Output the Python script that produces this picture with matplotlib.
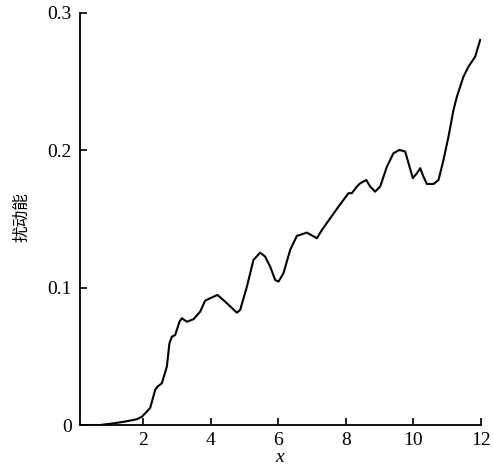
import matplotlib
matplotlib.use("Agg")
import matplotlib.pyplot as plt

x_vals = [0.2, 0.717, 1.111, 1.458, 1.804, 1.953, 2.199, 2.347, 2.415, 2.545, 2.693, 2.770,
          2.841, 2.939, 3.067, 3.138, 3.286, 3.481, 3.680, 3.828, 3.976, 4.193, 4.421,
          4.767, 4.865, 5.064, 5.259, 5.458, 5.606, 5.754, 5.902, 6.000, 6.148, 6.347,
          6.545, 6.841, 7.138, 7.286, 7.532, 7.778, 7.926, 8.074, 8.175, 8.323, 8.421,
          8.599, 8.717, 8.865, 9.013, 9.212, 9.407, 9.585, 9.754, 9.852, 9.982, 10.101,
          10.199, 10.296, 10.397, 10.593, 10.741, 10.889, 11.037, 11.185, 11.286, 11.481,
          11.630, 11.828, 11.976]
energy = [0.0, 0.0, 0.0012, 0.0025, 0.0042, 0.006, 0.0124, 0.0255, 0.0279, 0.0304, 0.0425,
          0.0595, 0.0643, 0.0655, 0.0752, 0.0777, 0.0752, 0.077, 0.0825, 0.0905, 0.0923,
          0.0947, 0.0898, 0.0818, 0.0838, 0.1007, 0.1202, 0.1255, 0.1226, 0.1153, 0.1056,
          0.1044, 0.1105, 0.1275, 0.1377, 0.1401, 0.136, 0.142, 0.1505, 0.159, 0.1639,
          0.1688, 0.1688, 0.1736, 0.176, 0.1784, 0.1736, 0.1699, 0.1736, 0.1881, 0.1979,
          0.2003, 0.1991, 0.1906, 0.1797, 0.1833, 0.187, 0.1808, 0.1755, 0.1755, 0.1784,
          0.193, 0.21, 0.2294, 0.2391, 0.2537, 0.261, 0.2682, 0.2804]

x_ticks = [2, 4, 6, 8, 10, 12]
y_ticks = [0, 0.1, 0.2, 0.3]
y_tick_labels = ["0", "0.1", "0.2", "0.3"]

fig = plt.figure(figsize=(4.93, 4.67), dpi=100)
W, H = 493, 467
ax = fig.add_axes([80 / W, 1 - 425 / H, (481 - 80) / W, (425 - 13) / H])

ax.plot(x_vals, energy, color="black", lw=1.5, solid_joinstyle="round")
ax.set_xlim(0.12, 12)
ax.set_ylim(0, 0.3)

for s in ["top", "right"]:
    ax.spines[s].set_visible(False)
for s in ["left", "bottom"]:
    ax.spines[s].set_linewidth(1.3)

ax.set_xticks(x_ticks)
ax.set_xticklabels([str(t) for t in x_ticks], fontfamily="Liberation Serif", fontsize=14)
ax.set_yticks(y_ticks)
ax.set_yticklabels(y_tick_labels, fontfamily="Liberation Serif", fontsize=14)
ax.tick_params(direction="in", length=5, width=1.2, pad=6)
ax.tick_params(axis="x", pad=5)

fig.text(280 / W, 1 - 466 / H, "x", ha="center", va="bottom",
         fontfamily="Liberation Serif", style="italic", fontsize=14)
fig.text(22 / W, 1 - 217 / H, "扰动能", rotation=90, ha="center", va="center",
         fontfamily=["Noto Sans CJK SC", "DejaVu Sans"], fontsize=12)

fig.savefig("out.png", dpi=100)
